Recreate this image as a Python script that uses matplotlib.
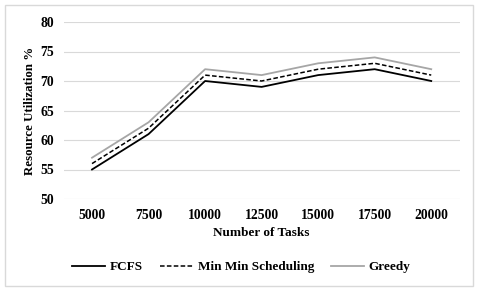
import matplotlib.pyplot as plt
from matplotlib.patches import Rectangle

tasks = ["5000", "7500", "10000", "12500", "15000", "17500", "20000"]
fcfs = [55, 61, 70, 69, 71, 72, 70]
minmin = [56, 62, 71, 70, 72, 73, 71]
greedy = [57, 63, 72, 71, 73, 74, 72]

plt.rcParams['font.family'] = ['Liberation Serif', 'DejaVu Serif']
plt.rcParams['font.weight'] = 'bold'

fig = plt.figure(figsize=(4.8, 2.91), dpi=100)
W, H = 480, 291
ax = fig.add_axes([63.75 / W, 1 - 199 / H, (459.5 - 63.75) / W, (199 - 22) / H])

x = range(len(tasks))
ax.plot(x, fcfs, color='black', lw=1.3, label='FCFS')
ax.plot(x, minmin, color='black', lw=1.1, ls=(0, (3, 1.5)), label='Min Min Scheduling')
ax.plot(x, greedy, color='#a6a6a6', lw=1.3, label='Greedy')

ax.set_xlim(-0.5, len(tasks) - 0.5)
ax.set_ylim(50, 80)
ax.set_yticks(range(50, 81, 5))
ax.set_xticks(list(x))
ax.set_xticklabels(tasks)
ax.grid(axis='y', color='#d9d9d9', lw=0.8)
ax.set_axisbelow(True)
for s in ax.spines.values():
    s.set_visible(False)
ax.tick_params(length=0, labelsize=9.8, pad=7)
ax.tick_params(axis='y', pad=7)
for lab in ax.get_xticklabels() + ax.get_yticklabels():
    lab.set_fontweight('bold')

ax.set_xlabel('Number of Tasks', fontsize=9.5, fontweight='bold', labelpad=4)
ax.set_ylabel('Resource Utilization %', fontsize=9.3, fontweight='bold', labelpad=3)

leg = ax.legend(loc='center', bbox_to_anchor=(0.449, -0.385), ncol=3, frameon=False,
                fontsize=9.5, handlelength=2.5, columnspacing=1.3, handletextpad=0.35)
for t in leg.get_texts():
    t.set_fontweight('bold')

fig.patches.append(Rectangle((5 / W, 5 / H), 468 / W, 281 / H, transform=fig.transFigure,
                             fill=False, edgecolor='#d9d9d9', lw=1))

fig.savefig('out.png', dpi=100)
